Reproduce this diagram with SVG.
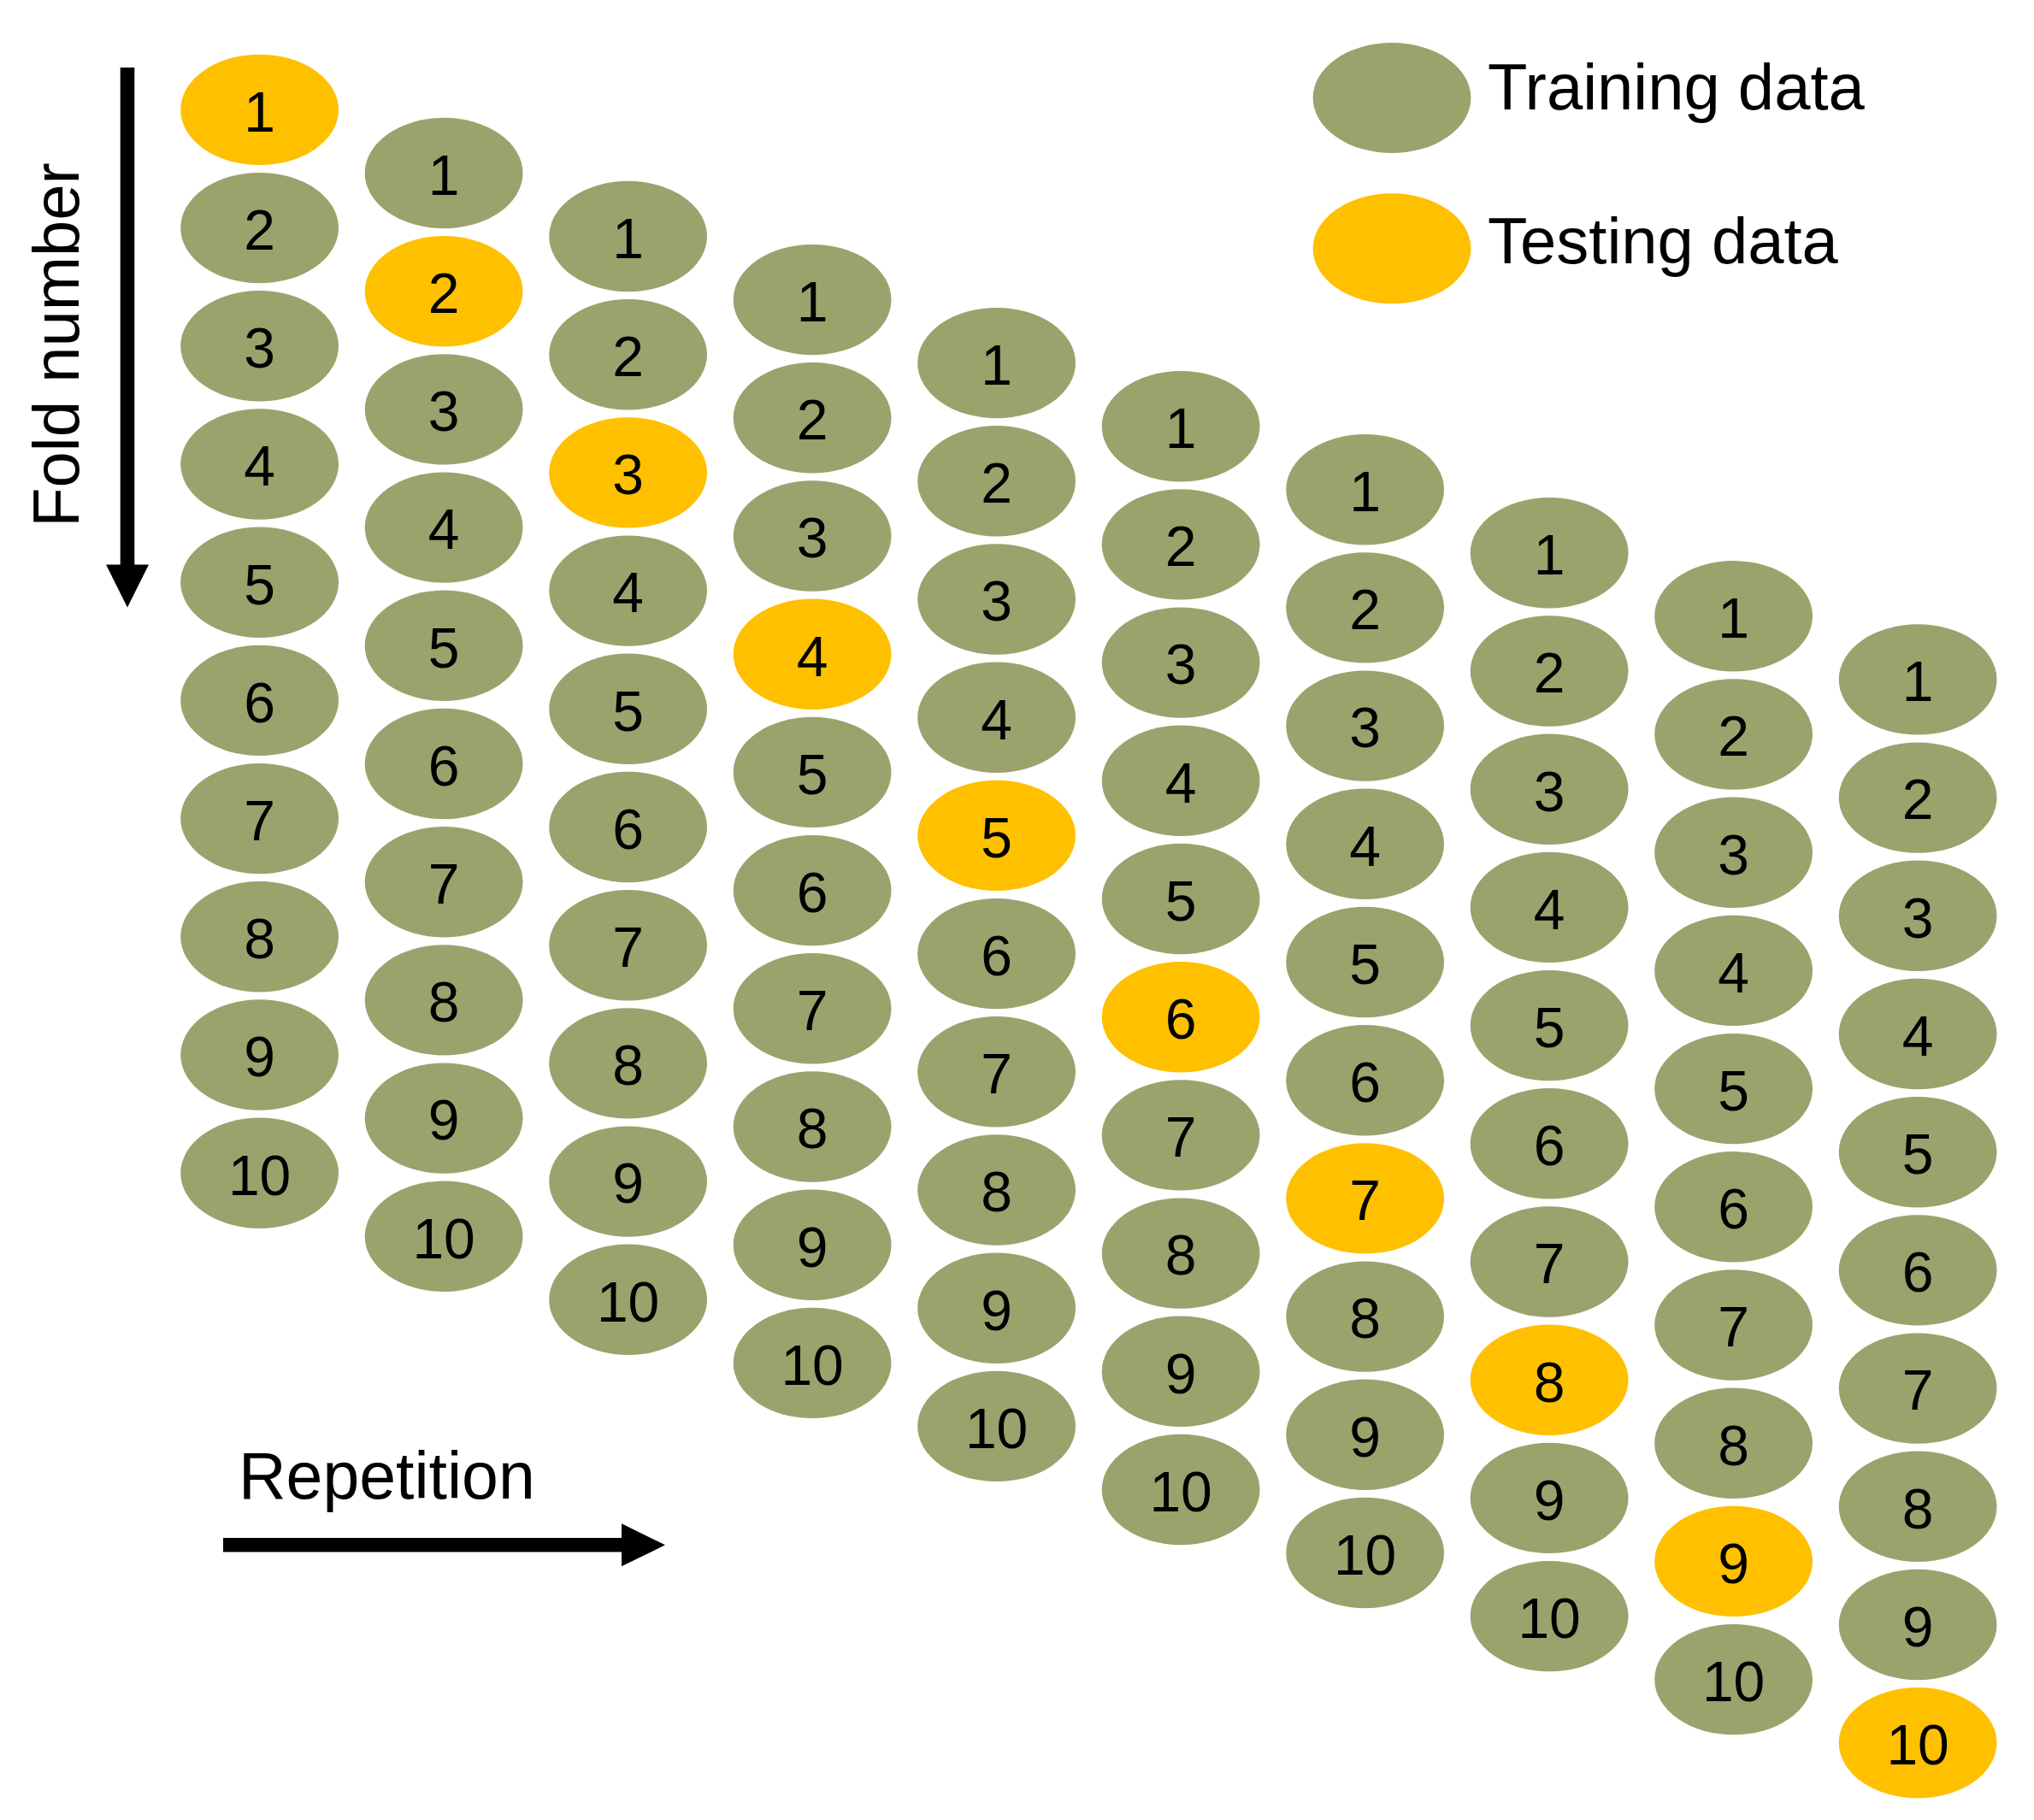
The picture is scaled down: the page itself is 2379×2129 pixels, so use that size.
<svg xmlns="http://www.w3.org/2000/svg" width="2379" height="2129" viewBox="0 0 2379 2129">
<style>
.tr{fill:#9BA26C}
.te{fill:#FFC000}
.d{font-family:"Liberation Sans",Arial,sans-serif;font-size:66px;fill:#000;text-anchor:middle}
.lbl{font-family:"Liberation Sans",Arial,sans-serif;fill:#000}
.ax{stroke:#000;stroke-width:16.6;fill:none}
.hd{fill:#000}
</style>
<defs>
<ellipse id="e" rx="92.4" ry="64.7"/>
</defs>
<rect width="2379" height="2129" fill="#fff"/>

<g id="connectors">
<path class="ax" d="M149,79 V662"/>
<polygon class="hd" points="124,660.5 174,660.5 149,710.5"/>
<path class="ax" d="M261,1807.3 H728"/>
<polygon class="hd" points="727,1782.3 727,1832.3 778,1807.3"/>
</g>

<g id="axis-labels">
<text class="lbl" font-size="76" text-anchor="middle" transform="translate(92,403.5) rotate(-90)">Fold number</text>
<text class="lbl" font-size="77" x="279" y="1753.3">Repetition</text>
</g>

<g id="legend">
<g id="legend-training"><ellipse class="tr" cx="1628" cy="114.5" rx="92.4" ry="64.5"/><text class="lbl" font-size="76" x="1740" y="127.7">Training data</text></g>
<g id="legend-testing"><ellipse class="te" cx="1628" cy="290.8" rx="92.4" ry="64.5"/><text class="lbl" font-size="76" x="1740" y="308.3">Testing data</text></g>
</g>

<g id="rep1" transform="translate(303.6,128.4)">
<g id="r1f1"><use href="#e" class="te"/><text class="d" y="25.3">1</text></g>
<g id="r1f2" transform="translate(0,138.2)"><use href="#e" class="tr"/><text class="d" y="25.3">2</text></g>
<g id="r1f3" transform="translate(0,276.4)"><use href="#e" class="tr"/><text class="d" y="25.3">3</text></g>
<g id="r1f4" transform="translate(0,414.6)"><use href="#e" class="tr"/><text class="d" y="25.3">4</text></g>
<g id="r1f5" transform="translate(0,552.8)"><use href="#e" class="tr"/><text class="d" y="25.3">5</text></g>
<g id="r1f6" transform="translate(0,691)"><use href="#e" class="tr"/><text class="d" y="25.3">6</text></g>
<g id="r1f7" transform="translate(0,829.2)"><use href="#e" class="tr"/><text class="d" y="25.3">7</text></g>
<g id="r1f8" transform="translate(0,967.4)"><use href="#e" class="tr"/><text class="d" y="25.3">8</text></g>
<g id="r1f9" transform="translate(0,1105.6)"><use href="#e" class="tr"/><text class="d" y="25.3">9</text></g>
<g id="r1f10" transform="translate(0,1243.8)"><use href="#e" class="tr"/><text class="d" y="25.3">10</text></g>
</g>

<g id="rep2" transform="translate(519.1,202.5)">
<g id="r2f1"><use href="#e" class="tr"/><text class="d" y="25.3">1</text></g>
<g id="r2f2" transform="translate(0,138.2)"><use href="#e" class="te"/><text class="d" y="25.3">2</text></g>
<g id="r2f3" transform="translate(0,276.4)"><use href="#e" class="tr"/><text class="d" y="25.3">3</text></g>
<g id="r2f4" transform="translate(0,414.6)"><use href="#e" class="tr"/><text class="d" y="25.3">4</text></g>
<g id="r2f5" transform="translate(0,552.8)"><use href="#e" class="tr"/><text class="d" y="25.3">5</text></g>
<g id="r2f6" transform="translate(0,691)"><use href="#e" class="tr"/><text class="d" y="25.3">6</text></g>
<g id="r2f7" transform="translate(0,829.2)"><use href="#e" class="tr"/><text class="d" y="25.3">7</text></g>
<g id="r2f8" transform="translate(0,967.4)"><use href="#e" class="tr"/><text class="d" y="25.3">8</text></g>
<g id="r2f9" transform="translate(0,1105.6)"><use href="#e" class="tr"/><text class="d" y="25.3">9</text></g>
<g id="r2f10" transform="translate(0,1243.8)"><use href="#e" class="tr"/><text class="d" y="25.3">10</text></g>
</g>

<g id="rep3" transform="translate(734.6,276.5)">
<g id="r3f1"><use href="#e" class="tr"/><text class="d" y="25.3">1</text></g>
<g id="r3f2" transform="translate(0,138.2)"><use href="#e" class="tr"/><text class="d" y="25.3">2</text></g>
<g id="r3f3" transform="translate(0,276.4)"><use href="#e" class="te"/><text class="d" y="25.3">3</text></g>
<g id="r3f4" transform="translate(0,414.6)"><use href="#e" class="tr"/><text class="d" y="25.3">4</text></g>
<g id="r3f5" transform="translate(0,552.8)"><use href="#e" class="tr"/><text class="d" y="25.3">5</text></g>
<g id="r3f6" transform="translate(0,691)"><use href="#e" class="tr"/><text class="d" y="25.3">6</text></g>
<g id="r3f7" transform="translate(0,829.2)"><use href="#e" class="tr"/><text class="d" y="25.3">7</text></g>
<g id="r3f8" transform="translate(0,967.4)"><use href="#e" class="tr"/><text class="d" y="25.3">8</text></g>
<g id="r3f9" transform="translate(0,1105.6)"><use href="#e" class="tr"/><text class="d" y="25.3">9</text></g>
<g id="r3f10" transform="translate(0,1243.8)"><use href="#e" class="tr"/><text class="d" y="25.3">10</text></g>
</g>

<g id="rep4" transform="translate(950.1,350.6)">
<g id="r4f1"><use href="#e" class="tr"/><text class="d" y="25.3">1</text></g>
<g id="r4f2" transform="translate(0,138.2)"><use href="#e" class="tr"/><text class="d" y="25.3">2</text></g>
<g id="r4f3" transform="translate(0,276.4)"><use href="#e" class="tr"/><text class="d" y="25.3">3</text></g>
<g id="r4f4" transform="translate(0,414.6)"><use href="#e" class="te"/><text class="d" y="25.3">4</text></g>
<g id="r4f5" transform="translate(0,552.8)"><use href="#e" class="tr"/><text class="d" y="25.3">5</text></g>
<g id="r4f6" transform="translate(0,691)"><use href="#e" class="tr"/><text class="d" y="25.3">6</text></g>
<g id="r4f7" transform="translate(0,829.2)"><use href="#e" class="tr"/><text class="d" y="25.3">7</text></g>
<g id="r4f8" transform="translate(0,967.4)"><use href="#e" class="tr"/><text class="d" y="25.3">8</text></g>
<g id="r4f9" transform="translate(0,1105.6)"><use href="#e" class="tr"/><text class="d" y="25.3">9</text></g>
<g id="r4f10" transform="translate(0,1243.8)"><use href="#e" class="tr"/><text class="d" y="25.3">10</text></g>
</g>

<g id="rep5" transform="translate(1165.6,424.6)">
<g id="r5f1"><use href="#e" class="tr"/><text class="d" y="25.3">1</text></g>
<g id="r5f2" transform="translate(0,138.2)"><use href="#e" class="tr"/><text class="d" y="25.3">2</text></g>
<g id="r5f3" transform="translate(0,276.4)"><use href="#e" class="tr"/><text class="d" y="25.3">3</text></g>
<g id="r5f4" transform="translate(0,414.6)"><use href="#e" class="tr"/><text class="d" y="25.3">4</text></g>
<g id="r5f5" transform="translate(0,552.8)"><use href="#e" class="te"/><text class="d" y="25.3">5</text></g>
<g id="r5f6" transform="translate(0,691)"><use href="#e" class="tr"/><text class="d" y="25.3">6</text></g>
<g id="r5f7" transform="translate(0,829.2)"><use href="#e" class="tr"/><text class="d" y="25.3">7</text></g>
<g id="r5f8" transform="translate(0,967.4)"><use href="#e" class="tr"/><text class="d" y="25.3">8</text></g>
<g id="r5f9" transform="translate(0,1105.6)"><use href="#e" class="tr"/><text class="d" y="25.3">9</text></g>
<g id="r5f10" transform="translate(0,1243.8)"><use href="#e" class="tr"/><text class="d" y="25.3">10</text></g>
</g>

<g id="rep6" transform="translate(1381.1,498.7)">
<g id="r6f1"><use href="#e" class="tr"/><text class="d" y="25.3">1</text></g>
<g id="r6f2" transform="translate(0,138.2)"><use href="#e" class="tr"/><text class="d" y="25.3">2</text></g>
<g id="r6f3" transform="translate(0,276.4)"><use href="#e" class="tr"/><text class="d" y="25.3">3</text></g>
<g id="r6f4" transform="translate(0,414.6)"><use href="#e" class="tr"/><text class="d" y="25.3">4</text></g>
<g id="r6f5" transform="translate(0,552.8)"><use href="#e" class="tr"/><text class="d" y="25.3">5</text></g>
<g id="r6f6" transform="translate(0,691)"><use href="#e" class="te"/><text class="d" y="25.3">6</text></g>
<g id="r6f7" transform="translate(0,829.2)"><use href="#e" class="tr"/><text class="d" y="25.3">7</text></g>
<g id="r6f8" transform="translate(0,967.4)"><use href="#e" class="tr"/><text class="d" y="25.3">8</text></g>
<g id="r6f9" transform="translate(0,1105.6)"><use href="#e" class="tr"/><text class="d" y="25.3">9</text></g>
<g id="r6f10" transform="translate(0,1243.8)"><use href="#e" class="tr"/><text class="d" y="25.3">10</text></g>
</g>

<g id="rep7" transform="translate(1596.6,572.7)">
<g id="r7f1"><use href="#e" class="tr"/><text class="d" y="25.3">1</text></g>
<g id="r7f2" transform="translate(0,138.2)"><use href="#e" class="tr"/><text class="d" y="25.3">2</text></g>
<g id="r7f3" transform="translate(0,276.4)"><use href="#e" class="tr"/><text class="d" y="25.3">3</text></g>
<g id="r7f4" transform="translate(0,414.6)"><use href="#e" class="tr"/><text class="d" y="25.3">4</text></g>
<g id="r7f5" transform="translate(0,552.8)"><use href="#e" class="tr"/><text class="d" y="25.3">5</text></g>
<g id="r7f6" transform="translate(0,691)"><use href="#e" class="tr"/><text class="d" y="25.3">6</text></g>
<g id="r7f7" transform="translate(0,829.2)"><use href="#e" class="te"/><text class="d" y="25.3">7</text></g>
<g id="r7f8" transform="translate(0,967.4)"><use href="#e" class="tr"/><text class="d" y="25.3">8</text></g>
<g id="r7f9" transform="translate(0,1105.6)"><use href="#e" class="tr"/><text class="d" y="25.3">9</text></g>
<g id="r7f10" transform="translate(0,1243.8)"><use href="#e" class="tr"/><text class="d" y="25.3">10</text></g>
</g>

<g id="rep8" transform="translate(1812.1,646.8)">
<g id="r8f1"><use href="#e" class="tr"/><text class="d" y="25.3">1</text></g>
<g id="r8f2" transform="translate(0,138.2)"><use href="#e" class="tr"/><text class="d" y="25.3">2</text></g>
<g id="r8f3" transform="translate(0,276.4)"><use href="#e" class="tr"/><text class="d" y="25.3">3</text></g>
<g id="r8f4" transform="translate(0,414.6)"><use href="#e" class="tr"/><text class="d" y="25.3">4</text></g>
<g id="r8f5" transform="translate(0,552.8)"><use href="#e" class="tr"/><text class="d" y="25.3">5</text></g>
<g id="r8f6" transform="translate(0,691)"><use href="#e" class="tr"/><text class="d" y="25.3">6</text></g>
<g id="r8f7" transform="translate(0,829.2)"><use href="#e" class="tr"/><text class="d" y="25.3">7</text></g>
<g id="r8f8" transform="translate(0,967.4)"><use href="#e" class="te"/><text class="d" y="25.3">8</text></g>
<g id="r8f9" transform="translate(0,1105.6)"><use href="#e" class="tr"/><text class="d" y="25.3">9</text></g>
<g id="r8f10" transform="translate(0,1243.8)"><use href="#e" class="tr"/><text class="d" y="25.3">10</text></g>
</g>

<g id="rep9" transform="translate(2027.6,720.8)">
<g id="r9f1"><use href="#e" class="tr"/><text class="d" y="25.3">1</text></g>
<g id="r9f2" transform="translate(0,138.2)"><use href="#e" class="tr"/><text class="d" y="25.3">2</text></g>
<g id="r9f3" transform="translate(0,276.4)"><use href="#e" class="tr"/><text class="d" y="25.3">3</text></g>
<g id="r9f4" transform="translate(0,414.6)"><use href="#e" class="tr"/><text class="d" y="25.3">4</text></g>
<g id="r9f5" transform="translate(0,552.8)"><use href="#e" class="tr"/><text class="d" y="25.3">5</text></g>
<g id="r9f6" transform="translate(0,691)"><use href="#e" class="tr"/><text class="d" y="25.3">6</text></g>
<g id="r9f7" transform="translate(0,829.2)"><use href="#e" class="tr"/><text class="d" y="25.3">7</text></g>
<g id="r9f8" transform="translate(0,967.4)"><use href="#e" class="tr"/><text class="d" y="25.3">8</text></g>
<g id="r9f9" transform="translate(0,1105.6)"><use href="#e" class="te"/><text class="d" y="25.3">9</text></g>
<g id="r9f10" transform="translate(0,1243.8)"><use href="#e" class="tr"/><text class="d" y="25.3">10</text></g>
</g>

<g id="rep10" transform="translate(2243.1,794.9)">
<g id="r10f1"><use href="#e" class="tr"/><text class="d" y="25.3">1</text></g>
<g id="r10f2" transform="translate(0,138.2)"><use href="#e" class="tr"/><text class="d" y="25.3">2</text></g>
<g id="r10f3" transform="translate(0,276.4)"><use href="#e" class="tr"/><text class="d" y="25.3">3</text></g>
<g id="r10f4" transform="translate(0,414.6)"><use href="#e" class="tr"/><text class="d" y="25.3">4</text></g>
<g id="r10f5" transform="translate(0,552.8)"><use href="#e" class="tr"/><text class="d" y="25.3">5</text></g>
<g id="r10f6" transform="translate(0,691)"><use href="#e" class="tr"/><text class="d" y="25.3">6</text></g>
<g id="r10f7" transform="translate(0,829.2)"><use href="#e" class="tr"/><text class="d" y="25.3">7</text></g>
<g id="r10f8" transform="translate(0,967.4)"><use href="#e" class="tr"/><text class="d" y="25.3">8</text></g>
<g id="r10f9" transform="translate(0,1105.6)"><use href="#e" class="tr"/><text class="d" y="25.3">9</text></g>
<g id="r10f10" transform="translate(0,1243.8)"><use href="#e" class="te"/><text class="d" y="25.3">10</text></g>
</g>
</svg>
